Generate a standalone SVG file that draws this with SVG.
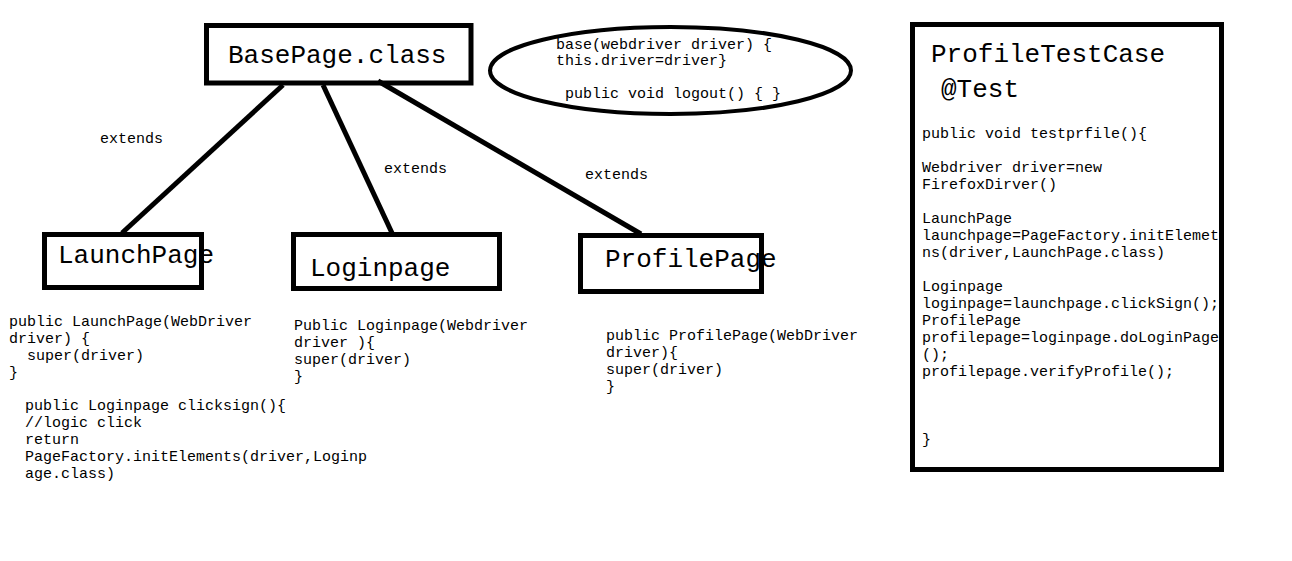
<svg xmlns="http://www.w3.org/2000/svg" width="1292" height="561" viewBox="0 0 1292 561">
<style>
.box{fill:none;stroke:#000;stroke-width:5}
.conn{stroke:#000;stroke-width:5;fill:none}
.big{font-family:"Liberation Mono","Courier New",monospace;font-size:26px;fill:#000}
.code{font-family:"Liberation Mono","Courier New",monospace;font-size:15px;fill:#000}
</style>
<rect width="1292" height="561" fill="#fff"/>
<g id="connectors">
<line class="conn" x1="283" y1="85" x2="122" y2="233"/>
<line class="conn" x1="323" y1="85" x2="392" y2="233"/>
<line class="conn" x1="378" y1="81" x2="641" y2="234"/>
<text class="code" x="100" y="143">extends</text>
<text class="code" x="384" y="173">extends</text>
<text class="code" x="585" y="179">extends</text>
</g>
<g id="basepage">
<rect class="box" x="206.5" y="25.5" width="264.5" height="57.5"/>
<text class="big" x="228" y="63">BasePage.class</text>
</g>
<g id="basenote">
<ellipse cx="670.5" cy="70.5" rx="180.5" ry="43.5" fill="none" stroke="#000" stroke-width="4"/>
<text class="code" x="556" y="49">base(webdriver driver) {</text>
<text class="code" x="556" y="65">this.driver=driver}</text>
<text class="code" x="565" y="98">public void logout() { }</text>
</g>
<g id="launchpage">
<rect class="box" x="44.5" y="234.5" width="157" height="53"/>
<text class="big" x="58" y="263">LaunchPage</text>
<text class="code" x="9" y="326">public LaunchPage(WebDriver</text>
<text class="code" x="9" y="343">driver) {</text>
<text class="code" x="27" y="360">super(driver)</text>
<text class="code" x="9" y="377">}</text>
<text class="code" x="25" y="410">public Loginpage clicksign(){</text>
<text class="code" x="25" y="427">//logic click</text>
<text class="code" x="25" y="444">return</text>
<text class="code" x="25" y="461">PageFactory.initElements(driver,Loginp</text>
<text class="code" x="25" y="478">age.class)</text>
</g>
<g id="loginpage">
<rect class="box" x="293.5" y="234.5" width="206" height="54"/>
<text class="big" x="310" y="276">Loginpage</text>
<text class="code" x="294" y="330">Public Loginpage(Webdriver</text>
<text class="code" x="294" y="347">driver ){</text>
<text class="code" x="294" y="364">super(driver)</text>
<text class="code" x="294" y="381">}</text>
</g>
<g id="profilepage">
<rect class="box" x="580.5" y="235.5" width="181" height="56"/>
<text class="big" x="605" y="267">ProfilePage</text>
<text class="code" x="606" y="340">public ProfilePage(WebDriver</text>
<text class="code" x="606" y="357">driver){</text>
<text class="code" x="606" y="374">super(driver)</text>
<text class="code" x="606" y="391">}</text>
</g>
<g id="profiletestcase">
<rect class="box" x="912.5" y="24.5" width="309" height="445"/>
<text class="big" x="931" y="62">ProfileTestCase</text>
<text class="big" x="941" y="97">@Test</text>
<text class="code" x="922" y="138">public void testprfile(){</text>
<text class="code" x="922" y="172">Webdriver driver=new</text>
<text class="code" x="922" y="189">FirefoxDirver()</text>
<text class="code" x="922" y="223">LaunchPage</text>
<text class="code" x="922" y="240">launchpage=PageFactory.initElemet</text>
<text class="code" x="922" y="257">ns(driver,LaunchPage.class)</text>
<text class="code" x="922" y="291">Loginpage</text>
<text class="code" x="922" y="308">loginpage=launchpage.clickSign();</text>
<text class="code" x="922" y="325">ProfilePage</text>
<text class="code" x="922" y="342">profilepage=loginpage.doLoginPage</text>
<text class="code" x="922" y="359">();</text>
<text class="code" x="922" y="376">profilepage.verifyProfile();</text>
<text class="code" x="922" y="444">}</text>
</g>
</svg>
